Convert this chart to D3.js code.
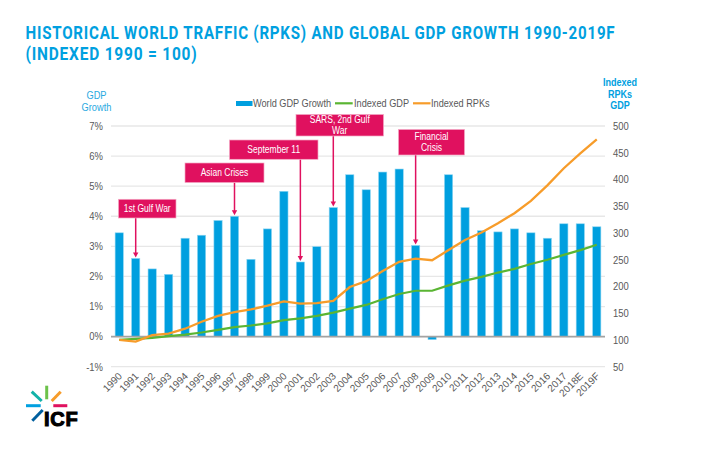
<!DOCTYPE html>
<html><head><meta charset="utf-8">
<script src="https://cdn.jsdelivr.net/npm/d3@7/dist/d3.min.js"></script>
<style>
html,body{margin:0;padding:0;background:#fff}
svg{display:block}
text{font-family:"Liberation Sans",Arial,sans-serif}
</style></head><body>
<svg id="c" width="720" height="450"></svg>
<script>
const years = ["1990","1991","1992","1993","1994","1995","1996","1997","1998","1999","2000","2001","2002","2003","2004","2005","2006","2007","2008","2009","2010","2011","2012","2013","2014","2015","2016","2017","2018E","2019F"];
const gdpGrowth = [3.45,2.6,2.25,2.07,3.27,3.37,3.86,4.0,2.57,3.58,4.83,2.48,2.99,4.29,5.38,4.88,5.47,5.57,3.03,-0.1,5.38,4.29,3.52,3.48,3.58,3.45,3.27,3.75,3.75,3.65];
const indexedGDP = [100,102,104,107,110,114,119,124,127,131,137,140.5,145,151,158.5,165.5,176,186,192,192,202,211,218,226,233,242,250,259,268,278];
const indexedRPK = [100,97,109,112,121,134,145,152,157,164,172,168,169,173,199,210,229,246,252,249,268,287,301,318,337,360,389,421,449,475];
const leftTicks = [-1,0,1,2,3,4,5,6,7];
const rightTicks = [50,100,150,200,250,300,350,400,450,500];
const eventYears = ["1991","1997","2001","2003","2008"];
const eventLabels = [["1st Gulf War"],["Asian Crises"],["September 11"],["SARS, 2nd Gulf","War"],["Financial","Crisis"]];
const titleLines = ["HISTORICAL WORLD TRAFFIC (RPKS) AND GLOBAL GDP GROWTH 1990-2019F","(INDEXED 1990 = 100)"];
const seriesNames = ["World GDP Growth","Indexed GDP","Indexed RPKs"];

const BLUE="#009fdf", GREEN="#5ab533", ORANGE="#f79c2a", PINK="#e0115f", GREY="#595959";
const svg=d3.select("#c");
const L=111,R=605,T=126,B=366.7;
const x=d3.scaleBand().domain(years).range([L,R]).paddingInner(0.5).paddingOuter(0.25);
const yL=d3.scaleLinear().domain([-1,7]).range([B,T]);
const yR=d3.scaleLinear().domain([50,500]).range([B,T]);
const cx=d=>x(d)+x.bandwidth()/2;
// condense a text horizontally, keeping its height
function squeeze(sel,k){sel.each(function(){
  this.setAttribute("textLength",(this.getComputedTextLength()*k).toFixed(2));
  this.setAttribute("lengthAdjust","spacingAndGlyphs");});return sel;}

// title: each line condensed by transform to its width in the picture
const titleWidths=[590.5,172];
svg.selectAll(".title").data(titleLines).join("text").attr("class","title")
  .attr("fill","#00a0e0").attr("font-size",18.5).attr("font-weight",700)
  .style("font-family","Roboto, 'Liberation Sans', sans-serif").style("letter-spacing","0.95px").text(d=>d)
  .each(function(d,i){
    const k=titleWidths[i]/this.getBBox().width;
    this.setAttribute("transform",`translate(25.5,${39+i*21}) scale(${k.toFixed(4)},1)`);
  });

// gridlines
svg.append("g").selectAll("line").data(leftTicks).join("line")
  .attr("x1",L).attr("x2",R).attr("y1",d=>yL(d)).attr("y2",d=>yL(d))
  .attr("stroke","#e7e7e7").attr("stroke-width",1.3);

// left & right axes via d3
const gl=svg.append("g").attr("transform",`translate(${L},0)`)
  .call(d3.axisLeft(yL).tickValues(leftTicks).tickFormat(d=>d+"%").tickSize(0).tickPadding(8));
const gr=svg.append("g").attr("transform",`translate(${R},0)`)
  .call(d3.axisRight(yR).tickValues(rightTicks).tickSize(0).tickPadding(8));
[gl,gr].forEach(g=>{g.select(".domain").remove();
  g.selectAll("text").attr("fill",GREY).attr("font-size",10.5).style("font-family","'Liberation Sans',Arial,sans-serif").call(squeeze,0.9);});

// bars
svg.append("g").selectAll("rect").data(gdpGrowth).join("rect")
  .attr("x",(d,i)=>x(years[i])).attr("width",x.bandwidth())
  .attr("y",d=>yL(Math.max(d,0))).attr("height",d=>Math.abs(yL(d)-yL(0)))
  .attr("fill",BLUE).attr("stroke","#8fd6f2").attr("stroke-width",0.6);

// zero line
svg.append("line").attr("x1",L).attr("x2",R).attr("y1",yL(0)).attr("y2",yL(0))
  .attr("stroke","#a3a3a3").attr("stroke-width",1.6);

// series lines
const line=d3.line().x((d,i)=>cx(years[i])).y(d=>yR(d));
svg.append("path").datum(indexedGDP).attr("d",line).attr("fill","none").attr("stroke",GREEN).attr("stroke-width",2.2);
svg.append("path").datum(indexedRPK).attr("d",line).attr("fill","none").attr("stroke",ORANGE).attr("stroke-width",2.3);

// x labels
svg.append("g").selectAll("text").data(years).join("text")
  .attr("text-anchor","end").attr("fill",GREY).attr("font-size",10)
  .attr("transform",d=>`translate(${cx(d)+3.5},${B+10}) rotate(-45)`).text(d=>d);

// axis titles
[["GDP",99],["Growth",110.5]].forEach(([t,yy])=>svg.append("text").attr("x",96.5).attr("y",yy)
  .attr("text-anchor","middle").attr("fill","#29a9e1").attr("font-size",10.5).text(t).call(squeeze,0.88));
[["Indexed",86],["RPKs",97.5],["GDP",109]].forEach(([t,yy])=>svg.append("text").attr("x",620).attr("y",yy)
  .attr("text-anchor","middle").attr("fill","#00a0e0").attr("font-size",10.5).attr("font-weight",700).text(t).call(squeeze,0.86));

// legend
const leg=svg.append("g");
leg.append("rect").attr("x",236).attr("y",101).attr("width",16.5).attr("height",5).attr("fill",BLUE);
leg.append("line").attr("x1",335).attr("x2",352.7).attr("y1",103.3).attr("y2",103.3).attr("stroke",GREEN).attr("stroke-width",2.2);
leg.append("line").attr("x1",413).attr("x2",430.5).attr("y1",103.3).attr("y2",103.3).attr("stroke",ORANGE).attr("stroke-width",2.2);
[253,354,431].forEach((lx,i)=>leg.append("text").attr("x",lx).attr("y",107).attr("fill",GREY).attr("font-size",10.2).text(seriesNames[i]).call(squeeze,0.9));

// callouts: box extents [x0,x1,y0,y1] per event
const boxes=[[118.5,176,199.3,218],[185,264,163,182.5],[229.5,318,140,159.3],[296,383.5,114.5,136],[398.5,464.5,129.5,155]];
const anns=svg.append("g");
eventYears.forEach((yr,i)=>{
  const b=boxes[i], ax=cx(yr), val=gdpGrowth[years.indexOf(yr)], tip=yL(val)-1;
  anns.append("line").attr("x1",ax).attr("x2",ax).attr("y1",b[3]).attr("y2",tip-4).attr("stroke",PINK).attr("stroke-width",1.5);
  anns.append("path").attr("d",`M${ax-2.7},${tip-5}L${ax+2.7},${tip-5}L${ax},${tip}Z`).attr("fill",PINK);
  anns.append("rect").attr("x",b[0]).attr("y",b[2]).attr("width",b[1]-b[0]).attr("height",b[3]-b[2])
    .attr("fill",PINK).attr("stroke","#f4a6c3").attr("stroke-width",0.7);
  const ls=eventLabels[i], mid=(b[0]+b[1])/2, cy=(b[2]+b[3])/2;
  ls.forEach((t,k)=>anns.append("text").attr("x",mid).attr("y",cy+3.6+(k-(ls.length-1)/2)*11)
    .attr("text-anchor","middle").attr("fill","#fff").attr("font-size",10).text(t).call(squeeze,0.85));
});

// logo
const logo=svg.append("g").attr("fill","none").attr("stroke-width",3);
[[31.7,391.7,41.7,401,"#12b2a8"],[46.7,385.7,46.7,399.3,"#6cc24a"],[60.7,391.7,51.7,401,"#f79c2a"],
 [53.3,405.7,67.3,405.7,"#e0115f"],[26,405.7,40.7,405.7,"#00a0e0"],[32.3,420.7,42.7,410,"#005f9e"]]
 .forEach(s=>logo.append("line").attr("x1",s[0]).attr("y1",s[1]).attr("x2",s[2]).attr("y2",s[3]).attr("stroke",s[4]));
svg.append("text").attr("x",44).attr("y",426).attr("fill","#000").attr("stroke","#000").attr("stroke-width",1.1)
  .attr("font-size",20).attr("font-weight",700).style("letter-spacing","0.8px").text("ICF");
</script></body></html>
